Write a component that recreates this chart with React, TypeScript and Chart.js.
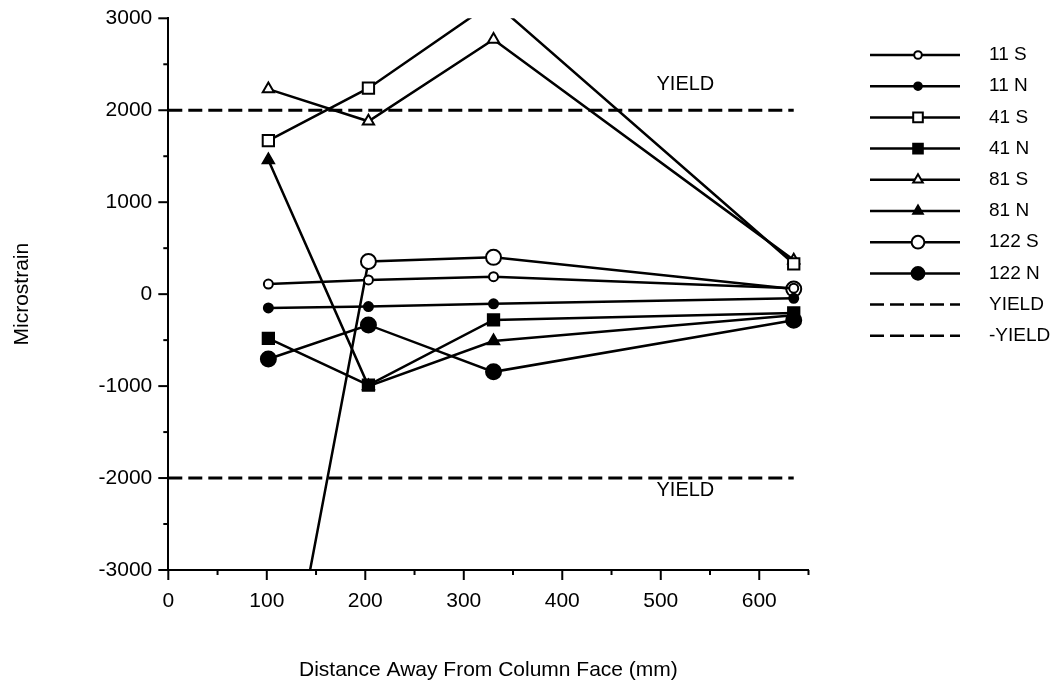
import React, { useEffect, useRef } from 'react';
import { Chart, registerables } from 'chart.js';

Chart.register(...registerables);

// ---- data ----
const distances = [101.6, 203.2, 330.2, 635];
const s11S = [110, 155, 190, 65];
const s11N = [-150, -135, -105, -45];
const s41S = [1670, 2240, 3180, 330];
const s41N = [-480, -990, -280, -205];
const s81S = [2230, 1880, 2770, 370];
const s81N = [1460, -1000, -510, -230];
const s122S = [-5400, 355, 400, 55];
const s122N = [-705, -335, -845, -285];
const yieldX = [0, 635];
const yieldPos = [2000, 2000];
const yieldNeg = [-2000, -2000];
const seriesLabels = ['11 S', '11 N', '41 S', '41 N', '81 S', '81 N', '122 S', '122 N', 'YIELD', '-YIELD'];
const yieldNoteText = ['YIELD', 'YIELD'];
const yieldNoteX = [525, 525];
const yieldNoteY = [2275, -2140];

const FONT = "'Liberation Sans', Arial, Helvetica, sans-serif";
const DASH = [14, 6];

type Style = { pointStyle: any; radius: number; fill: string; dash?: number[] };
const styles: Style[] = [
  { pointStyle: 'circle', radius: 4.5, fill: '#fff' },
  { pointStyle: 'circle', radius: 4.5, fill: '#000' },
  { pointStyle: 'rect', radius: 8, fill: '#fff' },
  { pointStyle: 'rect', radius: 8, fill: '#000' },
  { pointStyle: 'triangle', radius: 6.5, fill: '#fff' },
  { pointStyle: 'triangle', radius: 6.5, fill: '#000' },
  { pointStyle: 'circle', radius: 7.5, fill: '#fff' },
  { pointStyle: 'circle', radius: 7.5, fill: '#000' },
  { pointStyle: false, radius: 0, fill: '#000', dash: DASH },
  { pointStyle: false, radius: 0, fill: '#000', dash: DASH },
];

const seriesValues = [s11S, s11N, s41S, s41N, s81S, s81N, s122S, s122N];

function drawMarker(ctx: CanvasRenderingContext2D, style: string, r: number, x: number, y: number) {
  ctx.beginPath();
  if (style === 'circle') {
    ctx.arc(x, y, r, 0, Math.PI * 2);
  } else if (style === 'rect') {
    const s = r * Math.SQRT1_2;
    ctx.rect(x - s, y - s, 2 * s, 2 * s);
  } else if (style === 'triangle') {
    ctx.moveTo(x, y - r);
    ctx.lineTo(x + r * Math.cos(Math.PI / 6), y + r * 0.5);
    ctx.lineTo(x - r * Math.cos(Math.PI / 6), y + r * 0.5);
    ctx.closePath();
  }
  ctx.fill();
  ctx.stroke();
}

const decorPlugin = {
  id: 'decor',
  afterDraw(chart: any) {
    const { ctx, scales } = chart;
    const x = scales.x;
    const y = scales.y;
    ctx.save();
    ctx.strokeStyle = '#000';
    ctx.lineWidth = 2;
    ctx.setLineDash([]);
    x.ticks.forEach((t: any) => {
      const px = x.getPixelForValue(t.value);
      const len = t.value % 100 === 0 ? 10 : 5;
      ctx.beginPath();
      ctx.moveTo(px, y.bottom);
      ctx.lineTo(px, y.bottom + len);
      ctx.stroke();
    });
    y.ticks.forEach((t: any) => {
      const py = y.getPixelForValue(t.value);
      const len = t.value % 1000 === 0 ? 10 : 5;
      ctx.beginPath();
      ctx.moveTo(x.left, py);
      ctx.lineTo(x.left - len, py);
      ctx.stroke();
    });
    ctx.fillStyle = '#000';
    ctx.font = `20px ${FONT}`;
    ctx.textAlign = 'center';
    ctx.textBaseline = 'middle';
    yieldNoteText.forEach((txt, i) => {
      ctx.fillText(txt, x.getPixelForValue(yieldNoteX[i]), y.getPixelForValue(yieldNoteY[i]));
    });
    const lx0 = 870, lx1 = 960, mx = 918, tx = 989, ly0 = 55, step = 31.2;
    seriesLabels.forEach((lab, i) => {
      const st = styles[i];
      const ly = ly0 + i * step;
      ctx.strokeStyle = '#000';
      ctx.lineWidth = 2.5;
      ctx.setLineDash(st.dash || []);
      ctx.beginPath();
      ctx.moveTo(lx0, ly);
      ctx.lineTo(lx1, ly);
      ctx.stroke();
      ctx.setLineDash([]);
      if (st.pointStyle) {
        ctx.fillStyle = st.fill;
        ctx.strokeStyle = '#000';
        ctx.lineWidth = 2;
        drawMarker(ctx, st.pointStyle, st.radius * 0.85, mx, ly);
      }
      ctx.fillStyle = '#000';
      ctx.font = `19px ${FONT}`;
      ctx.textAlign = 'left';
      ctx.textBaseline = 'middle';
      ctx.fillText(lab, tx, ly);
    });
    ctx.restore();
  },
};

export default function App() {
  const ref = useRef<HTMLCanvasElement>(null);
  useEffect(() => {
    if (!ref.current) return;
    const datasets: any[] = seriesValues.map((vals, i) => ({
      label: seriesLabels[i],
      data: distances.map((d, j) => ({ x: d, y: vals[j] })),
      borderColor: '#000',
      borderWidth: 2.5,
      backgroundColor: styles[i].fill,
      pointBackgroundColor: styles[i].fill,
      pointBorderColor: '#000',
      pointBorderWidth: 2,
      pointStyle: styles[i].pointStyle,
      pointRadius: styles[i].radius,
      pointHoverRadius: styles[i].radius,
      tension: 0,
      fill: false,
    }));
    [yieldPos, yieldNeg].forEach((vals, k) => {
      datasets.push({
        label: seriesLabels[8 + k],
        data: yieldX.map((d, j) => ({ x: d, y: vals[j] })),
        borderColor: '#000',
        borderWidth: 3,
        borderDash: DASH,
        pointRadius: 0,
        fill: false,
      });
    });
    const chart = new Chart(ref.current, {
      type: 'line',
      data: { datasets },
      options: {
        animation: false,
        responsive: false,
        layout: { padding: { left: 0, top: 18.3, right: 250.5, bottom: 0 } },
        plugins: { legend: { display: false }, tooltip: { enabled: false } },
        scales: {
          x: {
            type: 'linear',
            min: 0,
            max: 650,
            afterFit: (s: any) => { s.height = 118; s.paddingLeft = 0; s.paddingRight = 0; },
            ticks: {
              stepSize: 50,
              autoSkip: false,
              maxRotation: 0,
              padding: 19,
              color: '#000',
              font: { family: FONT, size: 21 },
              callback: (v: any) => (v % 100 === 0 && v <= 600 ? String(v) : ''),
            },
            grid: { display: false, drawTicks: false },
            border: { display: true, color: '#000', width: 2 },
            title: {
              display: true,
              text: 'Distance Away From Column Face (mm)',
              color: '#000',
              font: { family: FONT, size: 21 },
              padding: { top: 0, bottom: 5 },
            },
          },
          y: {
            type: 'linear',
            min: -3000,
            max: 3000,
            afterFit: (s: any) => { s.width = 168.3; s.paddingTop = 0; s.paddingBottom = 0; },
            ticks: {
              stepSize: 500,
              autoSkip: false,
              padding: 16,
              color: '#000',
              font: { family: FONT, size: 21 },
              callback: (v: any) => (v % 1000 === 0 ? String(v) : ''),
            },
            grid: { display: false, drawTicks: false },
            border: { display: true, color: '#000', width: 2 },
            title: {
              display: true,
              text: 'Microstrain',
              color: '#000',
              font: { family: FONT, size: 21 },
              padding: { top: 10, bottom: 0 },
            },
          },
        },
      },
      plugins: [decorPlugin],
    });
    return () => chart.destroy();
  }, []);
  return (
    <div style={{ position: 'absolute', left: 0, top: 0, width: 1059, height: 688, background: '#fff' }}>
      <canvas ref={ref} width={1059} height={688} />
    </div>
  );
}
